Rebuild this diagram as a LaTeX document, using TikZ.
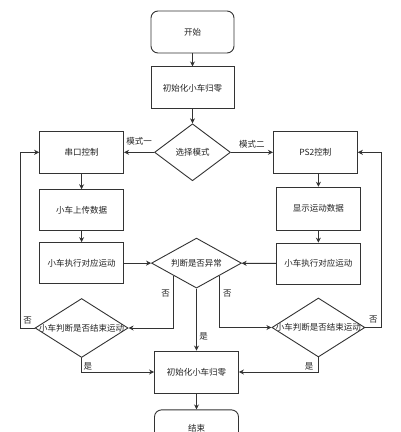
\documentclass[tikz,border=0pt]{standalone}
\usepackage{fontspec}
\setmainfont{Noto Sans CJK SC}
\usepackage{tikz}
\usetikzlibrary{arrows.meta,positioning,shapes.geometric}
\definecolor{flowline}{HTML}{333333}
\definecolor{flowtext}{HTML}{222222}
\tikzset{
  box/.style={draw=flowline, line width=0.9pt, fill=white, align=center, minimum width=84pt, minimum height=42pt, inner sep=0pt, font=\fontsize{8.5}{10}\selectfont, text=flowtext},
  terminal/.style={box, rounded corners=7pt},
  decision/.style={diamond, aspect=1.6, draw=flowline, line width=0.9pt, fill=white, align=center, inner xsep=-4pt, inner ysep=0pt, font=\fontsize{8.5}{10}\selectfont, text=flowtext},
  arrow/.style={-{Stealth[length=5pt,width=5pt]}, line width=0.9pt, draw=flowline},
  lbl/.style={font=\fontsize{8.5}{10}\selectfont, text=flowtext, inner sep=1.5pt}
}

\begin{document}
\begin{tikzpicture}[x=1pt, y=-1pt, node distance=13pt and 30pt]
  \useasboundingbox (0,0) rectangle (400,432);
  \clip (0,0) rectangle (400,432);

  \node[terminal, minimum width=83pt] (start) at (192.5,32) {开始};
  \node[box, minimum width=83pt, below=of start] (init) {初始化小车归零};
  \node[decision, minimum width=76pt, minimum height=57pt, below=14pt of init] (mode) {选择模式};
  \node[box, left=30pt of mode] (serial) {串口控制};
  \node[box, right=42pt of mode] (ps2) {PS2控制};
  \node[box, minimum height=41pt, below=15.5pt of serial] (upload) {小车上传数据};
  \node[box, minimum height=41pt, below=11pt of upload] (runL) {小车执行对应运动};
  \node[box, minimum height=43pt, below=13pt of ps2, xshift=3pt] (show) {显示运动数据};
  \node[box, minimum height=41pt, below=12pt of show] (runR) {小车执行对应运动};
  \node[decision, minimum width=90pt, minimum height=50pt, right=27pt of runL] (fault) {判断是否异常};
  \node[decision, minimum width=93pt, minimum height=59pt, below=14pt of runL] (stopL) {小车判断是否结束运动};
  \node[decision, minimum width=93pt, minimum height=59pt, below=13pt of runR] (stopR) {小车判断是否结束运动};
  \node[box, below=62pt of fault] (reset) {初始化小车归零};
  \node[terminal, minimum height=37pt, below=16pt of reset] (finish) {结束};

  \draw[arrow] (start) -- (init);
  \draw[arrow] (init) -- (mode);
  \draw[arrow] (mode) -- node[lbl, above=5pt]{模式一} (serial);
  \draw[arrow] (mode) -- node[lbl, above=2pt]{模式二} (ps2);
  \draw[arrow] (serial) -- (upload);
  \draw[arrow] (upload) -- (runL);
  \draw[arrow] (ps2.south -| show) -- (show);
  \draw[arrow] (show) -- (runR);
  \draw[arrow] (runL) -- (fault);
  \draw[arrow] (runR) -- (fault);
  \draw[arrow] (fault.south west) |- node[lbl, pos=0.17, left=2pt]{否} (stopL.east);
  \draw[arrow] (fault.south east) |- node[lbl, pos=0.17, right=2pt]{否} (stopR.west);
  \draw[arrow] (fault) -- node[lbl, pos=0.77, right=1pt]{是} (reset);
  \draw[arrow] (stopL.west) -- node[lbl, above=2pt]{否} ++(-14,0) |- (serial.west);
  \draw[arrow] (stopL.south) |- node[lbl, pos=0.5, anchor=south west]{是} (reset.west);
  \draw[arrow] (stopR.south) |- node[lbl, pos=0.5, anchor=south east, xshift=-3pt]{是} (reset.east);
  \draw[arrow] (stopR.east) -- node[lbl, above=2pt]{否} ++(16,0) |- (ps2.east);
  \draw[arrow] (reset) -- (finish);
\end{tikzpicture}
\end{document}
